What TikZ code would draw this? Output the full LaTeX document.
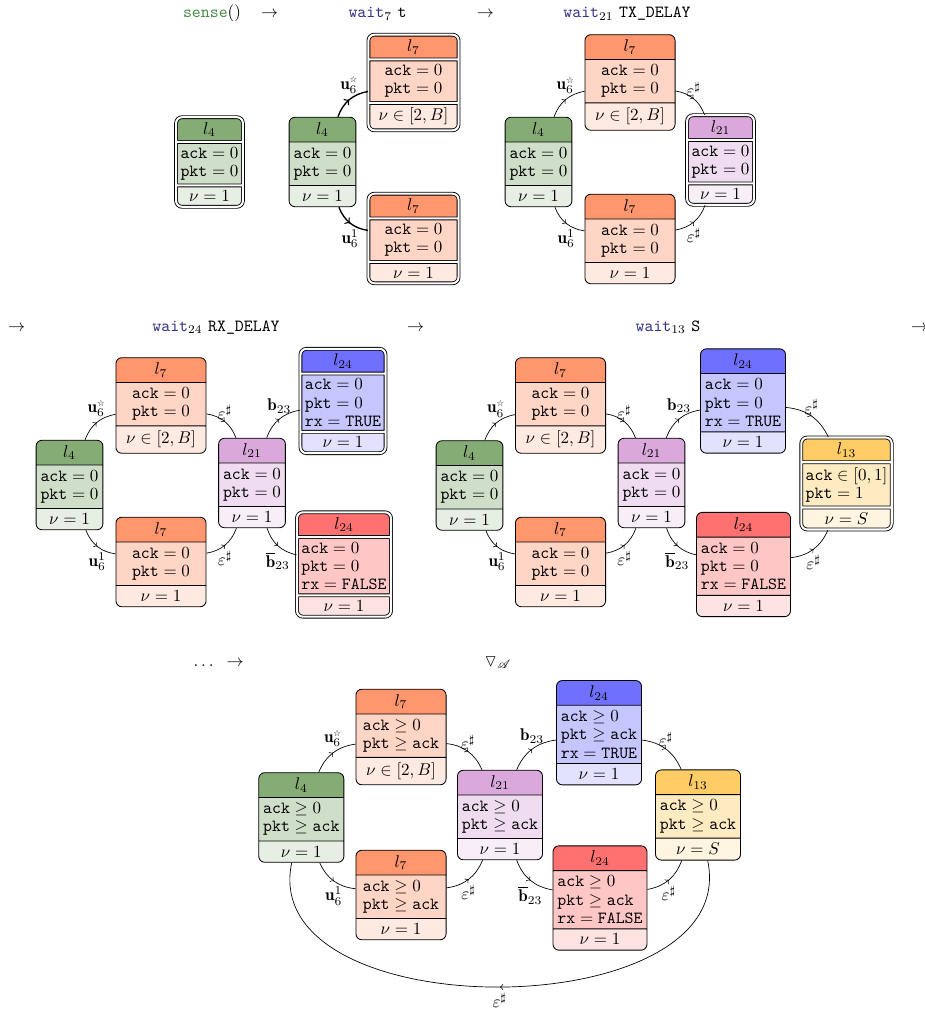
\documentclass[tikz,border=0pt]{standalone}
\usepackage{amsmath}
\usepackage{amssymb}
\usepackage{mathrsfs}
\usepackage{fontspec}
\newfontfamily\starfont{DejaVu Sans}
\usepackage{xcolor}
\usepackage{tikz}
\usetikzlibrary{shapes.multipart,decorations.markings}

\definecolor{c4}{RGB}{134,172,118}
\definecolor{c7}{RGB}{255,150,110}
\definecolor{c21}{RGB}{218,168,218}
\definecolor{c24t}{RGB}{112,112,255}
\definecolor{c24f}{RGB}{255,112,112}
\definecolor{c13}{RGB}{255,204,102}
\definecolor{senseclr}{RGB}{70,140,70}
\definecolor{waitclr}{RGB}{50,50,135}

\newcommand{\vack}{\mathtt{ack}}
\newcommand{\vpkt}{\mathtt{pkt}}
\newcommand{\vrx}{\mathtt{rx}}
\newcommand{\zeros}{$\vack = 0$\\[-1.2pt]$\vpkt = 0$}
\newcommand{\geqs}{$\vack \geq 0$\\[-1.2pt]$\vpkt \geq \vack$}
\newcommand{\lblus}{$\mathbf{u}_6^{\text{\starfont\tiny ☆}}$}
\newcommand{\lblu}{$\mathbf{u}_6^{1}$}
\newcommand{\lble}{$\varepsilon^{\sharp}$}
\newcommand{\lblb}{$\mathbf{b}_{23}$}
\newcommand{\lblnb}{$\overline{\mathbf{b}}_{23}$}

\begin{document}
\begin{tikzpicture}[
  x=0.588pt, y=0.588pt,
  loc/.style={rectangle split, rectangle split parts=3, draw, line width=0.5pt, rounded corners=3.5pt, align=left, inner xsep=2.6pt, inner ysep=2.8pt},
  fresh/.style={double, double distance=1.2pt},
  g4/.style={loc, rectangle split part fill={c4,c4!40,c4!20}},
  o7/.style={loc, minimum width=53pt, rectangle split part fill={c7,c7!40,c7!20}},
  p21/.style={loc, rectangle split part fill={c21,c21!40,c21!20}},
  b24/.style={loc, rectangle split part fill={c24t,c24t!40,c24t!20}},
  r24/.style={loc, rectangle split part fill={c24f,c24f!40,c24f!20}},
  y13/.style={loc, rectangle split part fill={c13,c13!40,c13!20}},
  trans/.style={postaction={decorate}, decoration={markings, mark=at position 0.5 with {\arrow{>}}}},
  hd/.style={anchor=base}
]
\useasboundingbox (0,0) rectangle (924,-1009);

% step headers
\node[hd] (h1) at (212,-17.5) {\textcolor{senseclr}{\texttt{sense}}()};
\node[hd] (h1a) at (269.5,-17.5) {$\rightarrow$};
\node[hd] (h2) at (377.5,-17.5) {\textcolor{waitclr}{\texttt{wait}}$_{7}$ \texttt{t}};
\node[hd] (h2a) at (485.4,-17.5) {$\rightarrow$};
\node[hd] (h3) at (627,-17.5) {\textcolor{waitclr}{\texttt{wait}}$_{21}$ \texttt{TX\_DELAY}};
\node[hd] (h3a) at (16.7,-331) {$\rightarrow$};
\node[hd] (h4) at (216,-331) {\textcolor{waitclr}{\texttt{wait}}$_{24}$ \texttt{RX\_DELAY}};
\node[hd] (h4a) at (415.5,-331) {$\rightarrow$};
\node[hd] (h5) at (668,-331) {\textcolor{waitclr}{\texttt{wait}}$_{13}$ \texttt{S}};
\node[hd] (h5a) at (919.5,-331) {$\rightarrow$};
\node[hd] (h6) at (205,-666) {$\dots$};
\node[hd] (h6a) at (235,-666) {$\rightarrow$};
\node[hd] (h7) at (498,-666) {$\triangledown_{\mathscr{A}}$};

% sense()
\node[g4, fresh] (a4) at (209.5,-162) {$l_{4}$\nodepart{two}\zeros\nodepart{three}$\nu = 1$};

% wait_7 t
\node[g4] (b4) at (322.5,-162) {$l_{4}$\nodepart{two}\zeros\nodepart{three}$\nu = 1$};
\node[o7, fresh] (b7s) at (413.5,-82.5) {$l_{7}$\nodepart{two}\zeros\nodepart{three}$\nu \in [2,B]$};
\node[o7, fresh] (b7o) at (413.5,-238.5) {$l_{7}$\nodepart{two}\zeros\nodepart{three}$\nu = 1$};
\draw[trans, thick] (b4) to[bend left] node[above] {\lblus} (b7s);
\draw[trans, thick] (b4) to[bend right] node[below] {\lblu} (b7o);

% wait_21 TX_DELAY
\node[g4] (c4) at (538.5,-162) {$l_{4}$\nodepart{two}\zeros\nodepart{three}$\nu = 1$};
\node[o7] (c7s) at (630,-82.5) {$l_{7}$\nodepart{two}\zeros\nodepart{three}$\nu \in [2,B]$};
\node[o7] (c7o) at (630,-239) {$l_{7}$\nodepart{two}\zeros\nodepart{three}$\nu = 1$};
\node[p21, fresh] (c21) at (720.5,-160) {$l_{21}$\nodepart{two}\zeros\nodepart{three}$\nu = 1$};
\draw[trans] (c4) to[bend left] node[above] {\lblus} (c7s);
\draw[trans] (c4) to[bend right] node[below] {\lblu} (c7o);
\draw[trans] (c7s) to[bend left] node[above, inner sep=1pt] {\lble} (c21);
\draw[trans] (c7o) to[bend right] node[below] {\lble} (c21);

% wait_24 RX_DELAY
\node[g4] (d4) at (69.5,-485) {$l_{4}$\nodepart{two}\zeros\nodepart{three}$\nu = 1$};
\node[o7] (d7s) at (161,-405.5) {$l_{7}$\nodepart{two}\zeros\nodepart{three}$\nu \in [2,B]$};
\node[o7] (d7o) at (161,-562) {$l_{7}$\nodepart{two}\zeros\nodepart{three}$\nu = 1$};
\node[p21] (d21) at (252,-483) {$l_{21}$\nodepart{two}\zeros\nodepart{three}$\nu = 1$};
\node[b24, fresh] (d24t) at (343,-401) {$l_{24}$\nodepart{two}\zeros\\[-1.2pt]$\vrx = \mathtt{TRUE}$\nodepart{three}$\nu = 1$};
\node[r24, fresh] (d24f) at (344,-564.5) {$l_{24}$\nodepart{two}\zeros\\[-1.2pt]$\vrx = \mathtt{FALSE}$\nodepart{three}$\nu = 1$};
\draw[trans] (d4) to[bend left] node[above] {\lblus} (d7s);
\draw[trans] (d4) to[bend right] node[below] {\lblu} (d7o);
\draw[trans] (d7s) to[bend left] node[above, inner sep=1pt] {\lble} (d21);
\draw[trans] (d7o) to[bend right] node[below] {\lble} (d21);
\draw[trans] (d21) to[bend left] node[above] {\lblb} (d24t);
\draw[trans] (d21) to[bend right] node[below] {\lblnb} (d24f);

% wait_13 S
\node[g4] (e4) at (469.5,-485.5) {$l_{4}$\nodepart{two}\zeros\nodepart{three}$\nu = 1$};
\node[o7] (e7s) at (560.5,-405.5) {$l_{7}$\nodepart{two}\zeros\nodepart{three}$\nu \in [2,B]$};
\node[o7] (e7o) at (560.5,-562) {$l_{7}$\nodepart{two}\zeros\nodepart{three}$\nu = 1$};
\node[p21] (e21) at (651.5,-483) {$l_{21}$\nodepart{two}\zeros\nodepart{three}$\nu = 1$};
\node[b24] (e24t) at (743,-401) {$l_{24}$\nodepart{two}\zeros\\[-1.2pt]$\vrx = \mathtt{TRUE}$\nodepart{three}$\nu = 1$};
\node[r24] (e24f) at (743.5,-564.5) {$l_{24}$\nodepart{two}\zeros\\[-1.2pt]$\vrx = \mathtt{FALSE}$\nodepart{three}$\nu = 1$};
\node[y13, fresh] (e13) at (846.5,-483.5) {$l_{13}$\nodepart{two}$\vack \in [0,1]$\\[-1.2pt]$\vpkt = 1$\nodepart{three}$\nu = S$};
\draw[trans] (e4) to[bend left] node[above] {\lblus} (e7s);
\draw[trans] (e4) to[bend right] node[below] {\lblu} (e7o);
\draw[trans] (e7s) to[bend left] node[above, inner sep=1pt] {\lble} (e21);
\draw[trans] (e7o) to[bend right] node[below] {\lble} (e21);
\draw[trans] (e21) to[bend left] node[above] {\lblb} (e24t);
\draw[trans] (e21) to[bend right] node[below] {\lblnb} (e24f);
\draw[trans] (e24t) to[bend left] node[above, inner sep=1pt] {\lble} (e13);
\draw[trans] (e24f) to[bend right] node[below] {\lble} (e13);

% widening
\node[g4] (f4) at (301.3,-817.5) {$l_{4}$\nodepart{two}\geqs\nodepart{three}$\nu = 1$};
\node[o7] (f7s) at (401,-737) {$l_{7}$\nodepart{two}\geqs\nodepart{three}$\nu \in [2,B]$};
\node[o7] (f7o) at (401,-895) {$l_{7}$\nodepart{two}\geqs\nodepart{three}$\nu = 1$};
\node[p21] (f21) at (500,-815) {$l_{21}$\nodepart{two}\geqs\nodepart{three}$\nu = 1$};
\node[b24] (f24t) at (599,-732.7) {$l_{24}$\nodepart{two}\geqs\\[-1.2pt]$\vrx = \mathtt{TRUE}$\nodepart{three}$\nu = 1$};
\node[r24] (f24f) at (600,-898) {$l_{24}$\nodepart{two}\geqs\\[-1.2pt]$\vrx = \mathtt{FALSE}$\nodepart{three}$\nu = 1$};
\node[y13] (f13) at (698,-815) {$l_{13}$\nodepart{two}\geqs\nodepart{three}$\nu = S$};
\draw[trans] (f4) to[bend left] node[above] {\lblus} (f7s);
\draw[trans] (f4) to[bend right] node[below] {\lblu} (f7o);
\draw[trans] (f7s) to[bend left] node[above, inner sep=1pt] {\lble} (f21);
\draw[trans] (f7o) to[bend right] node[below] {\lble} (f21);
\draw[trans] (f21) to[bend left] node[above] {\lblb} (f24t);
\draw[trans] (f21) to[bend right] node[below] {\lblnb} (f24f);
\draw[trans] (f24t) to[bend left] node[above, inner sep=1pt] {\lble} (f13);
\draw[trans] (f24f) to[bend right] node[below] {\lble} (f13);
\draw[trans] (f13) to[out=-78, in=-102, looseness=1.05] node[below] {\lble} (f4);
\end{tikzpicture}
\end{document}
